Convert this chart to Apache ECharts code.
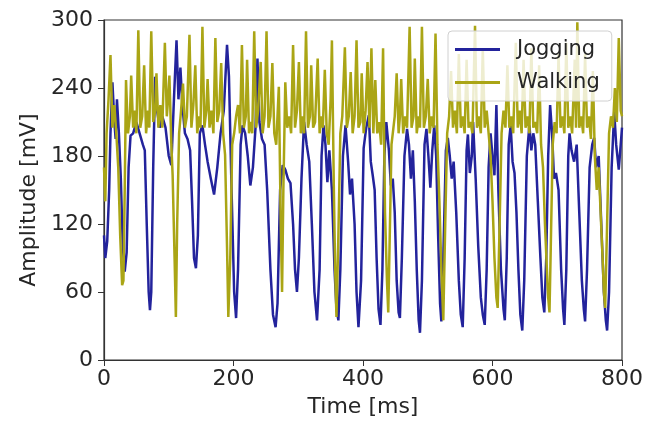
<!DOCTYPE html>
<html>
<head>
<meta charset="utf-8">
<script src="https://cdn.jsdelivr.net/npm/echarts@6/dist/echarts.min.js"></script>
<style>
html,body{margin:0;padding:0;background:#fff;}
#chart{width:646px;height:423px;}
</style>
</head>
<body>
<div id="chart"></div>
<script>
const xTicks = [0, 200, 400, 600, 800];
const yTicks = [0, 60, 120, 180, 240, 300];
const seriesNames = ['Jogging', 'Walking'];

const jogTime = [0,2,5,8,10,13,16,18,20,23,26,29,32,35,38,41,45,50,55,60,63,66,69,71,73,76,79,82,86,90,95,100,104,108,112,115,118,121,125,129,133,136,139,142,145,148,152,156,160,165,170,175,180,185,190,193,197,201,204,207,211,214,218,222,226,230,234,237,240,244,248,252,257,261,265,268,272,276,280,284,288,292,295,298,301,305,309,313,317,321,325,329,333,336,339,342,345,348,352,356,359,362,365,369,373,377,380,383,387,390,393,397,401,405,409,412,415,418,421,424,427,430,433,436,440,443,446,449,452,455,457,460,464,468,471,474,477,480,483,486,488,491,495,498,501,504,507,510,513,516,519,521,524,528,531,534,537,540,544,548,551,554,557,560,562,565,568,570,574,578,582,585,588,591,594,597,600,603,606,609,613,617,619,622,625,628,631,634,637,640,643,646,649,653,657,660,663,666,670,674,677,680,683,686,689,692,695,698,702,706,709,711,714,717,719,722,726,730,734,738,741,743,746,750,754,757,760,764,768,772,775,777,780,784,788,791,795,798,800];
const jogAmp = [110,90,105,150,200,245,210,195,230,200,160,100,78,95,170,198,200,210,200,190,185,120,60,44,60,170,250,220,205,215,205,180,172,230,282,230,258,225,200,195,185,140,90,81,110,200,207,190,175,160,146,170,200,220,278,250,150,60,37,80,190,207,200,180,154,170,205,266,210,195,190,150,80,40,29,50,150,172,168,160,156,120,80,60,90,160,210,190,175,120,60,35,80,180,207,190,157,185,150,80,45,35,80,180,207,175,146,160,120,60,29,70,187,205,216,175,163,150,90,45,31,80,180,210,185,154,160,130,70,42,37,90,180,204,190,160,185,140,80,35,24,70,190,204,180,152,185,207,180,110,50,34,90,185,196,180,160,175,130,70,40,29,90,185,199,165,180,210,160,100,55,40,31,80,170,200,180,163,225,150,80,45,35,90,190,207,175,165,130,80,40,26,70,180,207,185,200,190,140,90,55,42,90,180,225,200,160,165,150,80,45,31,80,180,200,185,175,190,130,70,45,34,80,170,190,196,170,180,120,60,35,26,60,170,219,190,168,190,205];

const walkTime = [0,2,4,7,10,13,16,19,22,25,28,30,32,34,37,40,42,45,48,50,53,56,59,62,65,68,70,73,76,79,81,84,87,90,94,97,99,101,104,106,109,111,113,116,119,122,125,128,132,135,138,141,144,147,149,152,155,158,160,163,166,169,172,175,178,181,184,187,190,192,195,198,201,204,207,210,213,216,219,221,224,227,229,232,235,238,242,245,248,251,254,257,260,263,266,270,273,275,277,280,283,286,289,292,295,298,301,304,307,309,312,315,318,320,323,326,330,333,336,338,341,344,347,350,352,355,357,359,362,365,368,372,375,378,381,384,387,390,393,396,398,401,404,407,410,413,416,419,422,425,428,431,434,437,439,441,444,447,449,452,455,457,459,462,465,468,472,475,478,480,483,486,488,491,494,497,500,503,506,509,512,515,518,521,524,527,530,533,536,539,542,545,548,551,554,557,560,563,566,569,573,576,579,582,585,588,591,594,597,600,603,606,608,611,614,617,620,623,626,629,632,636,639,642,645,648,651,654,657,660,663,666,669,672,675,678,681,684,686,688,690,693,696,699,702,705,708,711,714,717,720,723,727,729,731,734,737,740,743,746,749,752,755,758,761,764,767,770,772,774,777,780,783,786,789,792,795,798,800];
const walkAmp = [170,140,200,230,269,205,225,200,170,110,66,70,150,247,200,215,251,205,220,200,291,205,215,260,200,220,205,290,210,220,253,205,225,205,280,215,230,251,190,163,90,38,120,200,220,244,205,215,287,205,225,260,200,215,205,294,205,220,248,205,220,200,284,210,220,262,200,181,100,38,90,190,200,215,225,200,278,205,215,265,200,210,200,290,205,220,263,200,215,290,205,215,262,200,190,241,120,60,150,245,205,215,200,278,205,220,263,200,215,200,290,205,215,260,205,210,266,200,215,205,256,200,190,230,282,150,80,38,110,200,215,276,205,215,254,200,215,282,205,210,253,200,220,263,205,275,200,247,200,210,190,275,130,70,42,100,190,205,215,253,200,215,248,200,215,205,294,205,215,266,200,215,205,294,205,215,248,200,215,205,288,190,140,80,35,120,200,215,255,205,220,200,270,205,215,200,265,205,210,200,295,205,215,200,275,205,220,200,180,140,90,55,46,120,200,220,205,260,205,215,200,280,205,220,200,265,205,215,200,275,205,210,200,260,190,170,120,80,55,42,100,190,210,200,270,205,215,200,280,205,215,200,265,205,298,205,215,200,270,205,215,195,255,180,150,170,130,90,60,46,120,200,215,205,240,210,284,220,215];

const jogData = jogTime.map((t, i) => [t, jogAmp[i]]);
const walkData = walkTime.map((t, i) => [t, walkAmp[i]]);

const chart = echarts.init(document.getElementById('chart'), null, {renderer: 'canvas'});
const textColor = '#262626';
const font = 'DejaVu Sans';
chart.setOption({
  animation: false,
  backgroundColor: '#ffffff',
  grid: {left: 104, right: 21, top: 20, bottom: 63, show: true, borderColor: '#333', borderWidth: 1.2, backgroundColor: 'transparent'},
  legend: {
    data: seriesNames,
    orient: 'vertical',
    left: 448, top: 31,
    padding: [8, 12, 8, 7],
    itemGap: 12,
    itemWidth: 45, itemHeight: 3,
    icon: 'rect',
    backgroundColor: 'rgba(255,255,255,0.8)',
    borderColor: '#d0d0d0', borderWidth: 1, borderRadius: 4,
    textStyle: {fontFamily: font, fontSize: 21, color: textColor, padding: [0, 0, 0, 12]}
  },
  xAxis: {
    type: 'value', min: 0, max: 800, interval: 200,
    name: 'Time [ms]', nameLocation: 'middle', nameGap: 36,
    nameTextStyle: {fontFamily: font, fontSize: 22, color: textColor},
    axisLine: {show: true, lineStyle: {color: '#333', width: 1.2}},
    axisTick: {show: true, inside: false, length: 6, lineStyle: {color: '#333'}},
    axisLabel: {fontFamily: font, fontSize: 22, color: textColor, margin: 8,
      formatter: v => xTicks.includes(v) ? String(v) : ''},
    splitLine: {show: false}
  },
  yAxis: {
    type: 'value', min: 0, max: 300, interval: 60,
    name: 'Amplitude [mV]', nameLocation: 'middle', nameGap: 62,
    nameTextStyle: {fontFamily: font, fontSize: 22, color: textColor, padding: [0, 20, 0, 0]},
    axisLine: {show: true, lineStyle: {color: '#333', width: 1.2}},
    axisTick: {show: true, inside: false, length: 6, lineStyle: {color: '#333'}},
    axisLabel: {fontFamily: font, fontSize: 22, color: textColor, margin: 11,
      formatter: v => yTicks.includes(v) ? String(v) : ''},
    splitLine: {show: false}
  },
  series: [
    {name: seriesNames[0], type: 'line', data: jogData, showSymbol: false, symbol: 'none',
      lineStyle: {color: '#23239c', width: 2.5}, itemStyle: {color: '#23239c'}, z: 2},
    {name: seriesNames[1], type: 'line', data: walkData, showSymbol: false, symbol: 'none',
      lineStyle: {color: '#aaa515', width: 2.5}, itemStyle: {color: '#aaa515'}, z: 3}
  ]
});
</script>
</body>
</html>
